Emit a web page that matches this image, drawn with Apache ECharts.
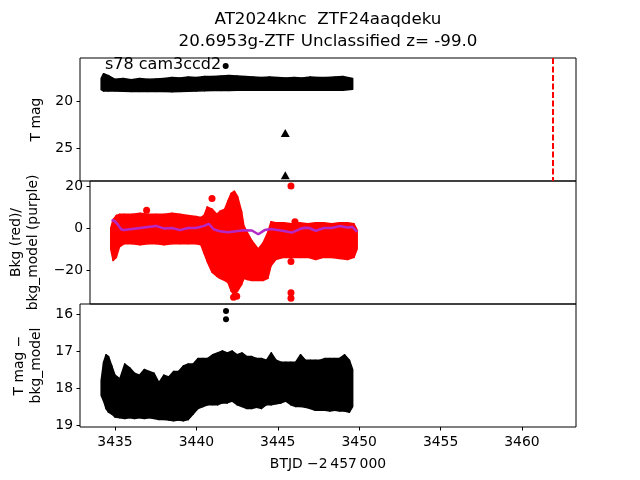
<!DOCTYPE html>
<html><head><meta charset="utf-8">
<script src="https://cdn.jsdelivr.net/npm/echarts@6/dist/echarts.min.js"></script>
<style>html,body{margin:0;padding:0;background:#fff}#c{width:640px;height:480px}</style>
</head><body><div id="c"></div>
<script>
// ---------- text ----------
const titleLine1 = 'AT2024knc  ZTF24aaqdeku';
const titleLine2 = '20.6953g-ZTF Unclassified z= -99.0';
const sectorLabel = 's78 cam3ccd2';
const xLabel = 'BTJD \u22122\u2009457\u2009000';
const yLabelTop = 'T mag';
const yLabelMid = 'Bkg (red)/\nbkg_model (purple)';
const yLabelBot = 'T mag \u2212\nbkg_model';

// ---------- axis ticks ----------
const xTicks = [3435, 3440, 3445, 3450, 3455, 3460];
const yTicksTop = [20, 25];
const yTicksMid = [-20, 0, 20];
const yTicksBot = [16, 17, 18, 19];

// ---------- top panel: T mag (band envelope) ----------
const topT  = [3434.15,3434.3,3434.6,3435,3435.5,3436,3436.5,3437,3437.5,3438,3438.5,3439,3439.5,3440,3440.5,3441,3441.5,3442,3442.5,3443,3443.5,3444,3444.5,3445,3445.5,3446,3446.5,3447,3447.5,3448,3448.5,3449,3449.6];
const topHi = [17.6,17.1,17.3,17.7,17.6,17.75,17.6,17.7,17.65,17.6,17.5,17.55,17.45,17.5,17.4,17.4,17.35,17.3,17.35,17.4,17.45,17.5,17.45,17.5,17.55,17.5,17.55,17.45,17.5,17.5,17.45,17.4,17.6];
const topLo = [18.8,18.95,18.95,18.95,18.97,19.0,19.0,19.0,19.0,19.0,19.02,19.0,18.97,18.95,18.9,18.88,18.88,18.88,18.85,18.85,18.85,18.85,18.85,18.85,18.85,18.85,18.85,18.85,18.85,18.85,18.85,18.85,18.75];
const topDotT = [3441.8];
const topDotV = [16.28];
const topTriT = [3445.46, 3445.46];
const topTriV = [23.4, 27.9];
const refEpoch = 3461.87;

// ---------- middle panel: Bkg (red) envelope + bkg_model (purple) ----------
const bkgT  = [3434.15,3434.3,3434.5,3434.7,3435.0,3435.5,3436.0,3436.5,3437.0,3437.5,3438.0,3438.5,3439.0,3439.5,3439.8,3440.0,3440.2,3440.5,3440.8,3441.0,3441.3,3441.5,3441.7,3441.9,3442.1,3442.35,3442.5,3442.7,3443.0,3443.4,3443.7,3444.0,3444.2,3444.5,3445.0,3445.5,3446.0,3446.5,3447.0,3447.5,3448.0,3448.5,3449.0,3449.4,3449.6];
const bkgHi = [0,4,6,6.5,6.5,6.5,7,6.5,6.5,6.5,7,6.5,6,5.5,5,6,10,9,6.5,8,9,13,16.5,17.5,15,8,1,-2,-6,-10,-7,-2,3,2.5,2.5,2,2.5,2,2.5,2.5,2,2.5,2.5,2,-1];
const bkgLo = [-10,-15.5,-14,-9,-7.5,-7.5,-8,-7.5,-7.5,-8,-7.5,-7.5,-7.5,-7.5,-8,-12,-16,-21,-23,-24,-25,-26,-30,-32,-30,-27,-24,-24.5,-25,-25,-25,-24,-18,-15,-14,-14,-14,-14,-15,-14,-14,-14.5,-15,-14,-10];
const bkgOutT = [3445.45,3445.7,3445.45,3445.45,3445.45,3440.5,3436.4,3441.85,3442.05];
const bkgOutV = [20,3,-16,-30.8,-33.5,14,8.5,-33,-32.5];
const modelT = [3434.2,3434.4,3434.6,3434.8,3435.0,3435.5,3436.0,3436.5,3437.0,3437.5,3438.0,3438.5,3439.0,3439.5,3440.0,3440.3,3440.6,3441.0,3441.5,3442.0,3442.5,3443.0,3443.4,3443.8,3444.2,3444.5,3445.0,3445.5,3446.0,3446.3,3446.6,3447.0,3447.5,3448.0,3448.5,3449.0,3449.3,3449.6];
const modelV = [3.8,3.3,1.6,-0.6,-1,-0.5,0,0.5,1,-0.3,0,-1,0,0,1,2,-0.6,-1.6,-2,-1.5,-1.1,-1.2,-3,-1,-0.5,-0.8,-1.4,-2.2,-0.5,0.1,0,-1.4,0,0,0.9,0.2,0.5,-1.9];

// ---------- bottom panel: T mag - bkg_model envelope ----------
const difT  = [3434.15,3434.3,3434.45,3434.6,3434.8,3435.0,3435.3,3435.6,3435.9,3436.2,3436.5,3436.8,3437.1,3437.4,3437.7,3438.0,3438.3,3438.6,3438.9,3439.2,3439.5,3439.8,3440.1,3440.4,3440.7,3441.0,3441.3,3441.6,3441.9,3442.2,3442.5,3442.8,3443.1,3443.4,3443.7,3444.0,3444.3,3444.6,3444.9,3445.2,3445.5,3445.8,3446.1,3446.4,3446.7,3447.0,3447.3,3447.6,3447.9,3448.2,3448.5,3448.8,3449.1,3449.4,3449.6];
const difHi = [17.8,17.3,17.1,17.15,17.4,17.65,17.75,17.35,17.45,17.6,17.65,17.5,17.55,17.6,17.85,17.65,17.7,17.55,17.55,17.4,17.35,17.35,17.2,17.2,17.2,17.1,17.05,17.0,17.05,17.0,17.1,17.05,17.15,17.15,17.2,17.2,17.25,17.05,17.25,17.3,17.3,17.3,17.3,17.1,17.25,17.25,17.25,17.25,17.2,17.2,17.2,17.2,17.1,17.25,17.5];
const difLo = [18.2,18.35,18.55,18.65,18.7,18.78,18.8,18.82,18.8,18.82,18.8,18.82,18.8,18.82,18.85,18.85,18.86,18.88,18.86,18.88,18.85,18.7,18.55,18.5,18.45,18.45,18.45,18.4,18.4,18.35,18.45,18.5,18.55,18.55,18.52,18.55,18.45,18.45,18.42,18.4,18.35,18.45,18.5,18.5,18.52,18.55,18.6,18.6,18.6,18.62,18.6,18.62,18.62,18.65,18.5];
const difDotT = [3441.82, 3441.82];
const difDotV = [15.92, 16.14];

// ---------- helpers ----------
const FONT = 'DejaVu Sans';
const pairs = (a, b) => a.map((v, i) => [v, b[i]]);
const minus = v => String(v).replace('-', '\u2212');

function bandSeries(t, hi, lo, color, idx) {
  const data = [];
  for (let i = 0; i < t.length - 1; i++) data.push([t[i], hi[i], lo[i], t[i + 1], hi[i + 1], lo[i + 1]]);
  return {
    type: 'custom', xAxisIndex: idx, yAxisIndex: idx, data, silent: true, animation: false,
    encode: { x: [0, 3], y: [1, 2, 4, 5] },
    renderItem(params, api) {
      const a = api.coord([api.value(0), api.value(1)]);
      const b = api.coord([api.value(3), api.value(4)]);
      const c = api.coord([api.value(3), api.value(5)]);
      const d = api.coord([api.value(0), api.value(2)]);
      return { type: 'polygon', shape: { points: [a, b, c, d] },
        style: { fill: color, stroke: color, lineWidth: 1.5, lineJoin: 'round' } };
    }
  };
}

const grids = [
  { left: 80, right: 64, top: 58, height: 123 },
  { left: 80, right: 64, top: 181, height: 123 },
  { left: 80, right: 64, top: 304, height: 123 }
].map(g => Object.assign(g, { show: true, borderColor: '#000', borderWidth: 1, containLabel: false }));

function xAx(i, showLabels) {
  return {
    type: 'value', gridIndex: i, min: 3432.85, max: 3463.32,
    axisLine: { show: false }, splitLine: { show: false },
    axisTick: { show: showLabels, length: 3.5, lineStyle: { color: '#000' }, customValues: xTicks },
    axisLabel: { show: showLabels, customValues: xTicks, color: '#000', fontFamily: FONT, fontSize: 13.9, margin: 8,
      formatter: v => String(v) },
    name: showLabels ? xLabel : '', nameLocation: 'middle', nameGap: 30,
    nameTextStyle: { color: '#000', fontFamily: FONT, fontSize: 13.9 }
  };
}
function yAx(i, min, max, inverse, ticks, name, gap) {
  return {
    type: 'value', gridIndex: i, min, max, inverse,
    axisLine: { show: false }, splitLine: { show: false },
    axisTick: { show: true, length: 3.5, lineStyle: { color: '#000' }, customValues: ticks },
    axisLabel: { customValues: ticks, color: '#000', fontFamily: FONT, fontSize: 13.9, margin: 7, formatter: minus },
    name, nameLocation: 'middle', nameGap: gap, nameRotate: 90,
    nameTextStyle: { color: '#000', fontFamily: FONT, fontSize: 13.9, lineHeight: 17 }
  };
}

const chart = echarts.init(document.getElementById('c'), null, { renderer: 'canvas' });
chart.setOption({
  animation: false,
  backgroundColor: '#fff',
  grid: grids,
  xAxis: [xAx(0, false), xAx(1, false), xAx(2, true)],
  yAxis: [
    yAx(0, 15.43, 28.51, true, yTicksTop, yLabelTop, 34),
    yAx(1, -36.2, 22.38, false, yTicksMid, yLabelMid, 48),
    yAx(2, 15.73, 19.05, true, yTicksBot, yLabelBot, 34)
  ],
  graphic: [
    { type: 'text', x: 328, y: 20, style: { text: titleLine1, fill: '#000', font: '16.7px "DejaVu Sans"', textAlign: 'center', textVerticalAlign: 'middle' } },
    { type: 'text', x: 328, y: 42, style: { text: titleLine2, fill: '#000', font: '16.7px "DejaVu Sans"', textAlign: 'center', textVerticalAlign: 'middle' } },
    { type: 'text', x: 105, y: 65, style: { text: sectorLabel, fill: '#000', font: '16px "DejaVu Sans"', textVerticalAlign: 'middle' }, z: 100 }
  ],
  series: [
    bandSeries(topT, topHi, topLo, '#000', 0),
    { type: 'scatter', xAxisIndex: 0, yAxisIndex: 0, data: pairs(topDotT, topDotV), symbol: 'circle', symbolSize: 6,
      itemStyle: { color: '#000', opacity: 1 }, silent: true,
      markLine: { silent: true, symbol: 'none', label: { show: false },
        lineStyle: { color: '#ff0000', type: [6, 2.5], width: 2 }, data: [{ xAxis: refEpoch }] } },
    { type: 'scatter', xAxisIndex: 0, yAxisIndex: 0, data: pairs(topTriT, topTriV), symbol: 'triangle', symbolSize: [9, 8],
      itemStyle: { color: '#000', opacity: 1 }, silent: true },
    bandSeries(bkgT, bkgHi, bkgLo, '#ff0000', 1),
    { type: 'scatter', xAxisIndex: 1, yAxisIndex: 1, data: pairs(bkgOutT, bkgOutV), symbol: 'circle', symbolSize: 7,
      itemStyle: { color: '#ff0000', opacity: 1 }, silent: true },
    { type: 'line', xAxisIndex: 1, yAxisIndex: 1, data: pairs(modelT, modelV), showSymbol: false, z: 5,
      lineStyle: { color: '#b428c8', width: 2.5 }, silent: true },
    bandSeries(difT, difHi, difLo, '#000', 2),
    { type: 'scatter', xAxisIndex: 2, yAxisIndex: 2, data: pairs(difDotT, difDotV), symbol: 'circle', symbolSize: 6,
      itemStyle: { color: '#000', opacity: 1 }, silent: true }
  ]
});
</script>
</body></html>
